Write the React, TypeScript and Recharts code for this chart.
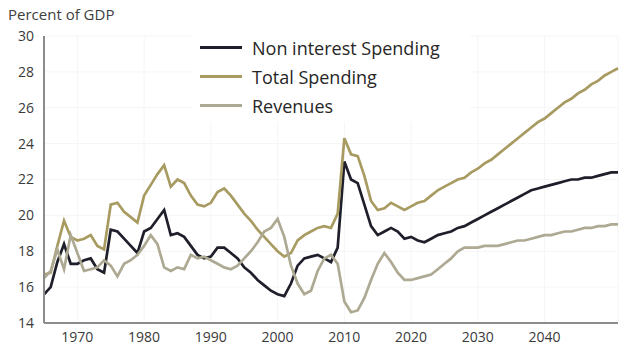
import React from 'react';
import { LineChart, Line, XAxis, YAxis, CartesianGrid } from 'recharts';

const years = [
  1965, 1966, 1967, 1968, 1969, 1970, 1971, 1972, 1973, 1974,
  1975, 1976, 1977, 1978, 1979, 1980, 1981, 1982, 1983, 1984,
  1985, 1986, 1987, 1988, 1989, 1990, 1991, 1992, 1993, 1994,
  1995, 1996, 1997, 1998, 1999, 2000, 2001, 2002, 2003, 2004,
  2005, 2006, 2007, 2008, 2009, 2010, 2011, 2012, 2013, 2014,
  2015, 2016, 2017, 2018, 2019, 2020, 2021, 2022, 2023, 2024,
  2025, 2026, 2027, 2028, 2029, 2030, 2031, 2032, 2033, 2034,
  2035, 2036, 2037, 2038, 2039, 2040, 2041, 2042, 2043, 2044,
  2045, 2046, 2047, 2048, 2049, 2050, 2051,
];

const nonInterest = [
  15.6, 16.0, 17.4, 18.4, 17.3, 17.3, 17.5, 17.6, 17.0, 16.8,
  19.2, 19.1, 18.7, 18.3, 17.9, 19.1, 19.3, 19.8, 20.3, 18.9,
  19.0, 18.8, 18.3, 17.8, 17.6, 17.7, 18.2, 18.2, 17.9, 17.6,
  17.1, 16.8, 16.4, 16.1, 15.8, 15.6, 15.5, 16.2, 17.2, 17.6,
  17.7, 17.8, 17.6, 17.4, 18.2, 23.0, 22.0, 21.8, 20.6, 19.4,
  18.9, 19.1, 19.3, 19.1, 18.7, 18.8, 18.6, 18.5, 18.7, 18.9,
  19.0, 19.1, 19.3, 19.4, 19.6, 19.8, 20.0, 20.2, 20.4, 20.6,
  20.8, 21.0, 21.2, 21.4, 21.5, 21.6, 21.7, 21.8, 21.9, 22.0,
  22.0, 22.1, 22.1, 22.2, 22.3, 22.4, 22.4,
];

const totalSpending = [
  16.7, 16.8, 18.3, 19.7, 18.8, 18.6, 18.7, 18.9, 18.3, 18.1,
  20.6, 20.7, 20.2, 19.9, 19.6, 21.1, 21.7, 22.3, 22.8, 21.6,
  22.0, 21.8, 21.1, 20.6, 20.5, 20.7, 21.3, 21.5, 21.1, 20.6,
  20.1, 19.7, 19.2, 18.8, 18.4, 18.0, 17.7, 17.9, 18.6, 18.9,
  19.1, 19.3, 19.4, 19.3, 20.1, 24.3, 23.4, 23.3, 22.2, 20.8,
  20.3, 20.4, 20.7, 20.5, 20.3, 20.5, 20.7, 20.8, 21.1, 21.4,
  21.6, 21.8, 22.0, 22.1, 22.4, 22.6, 22.9, 23.1, 23.4, 23.7,
  24.0, 24.3, 24.6, 24.9, 25.2, 25.4, 25.7, 26.0, 26.3, 26.5,
  26.8, 27.0, 27.3, 27.5, 27.8, 28.0, 28.2,
];

const revenues = [
  16.5, 16.9, 18.1, 17.0, 18.9, 17.9, 16.9, 17.0, 17.1, 17.5,
  17.2, 16.6, 17.3, 17.5, 17.8, 18.3, 18.9, 18.4, 17.1, 16.9,
  17.1, 17.0, 17.8, 17.6, 17.7, 17.5, 17.3, 17.1, 17.0, 17.2,
  17.6, 18.0, 18.5, 19.1, 19.3, 19.8, 18.8, 17.2, 16.2, 15.6,
  15.8, 16.9, 17.6, 17.8, 17.3, 15.2, 14.6, 14.7, 15.4, 16.4,
  17.3, 17.9, 17.4, 16.8, 16.4, 16.4, 16.5, 16.6, 16.7, 17.0,
  17.3, 17.6, 18.0, 18.2, 18.2, 18.2, 18.3, 18.3, 18.3, 18.4,
  18.5, 18.6, 18.6, 18.7, 18.8, 18.9, 18.9, 19.0, 19.1, 19.1,
  19.2, 19.3, 19.3, 19.4, 19.4, 19.5, 19.5,
];

const xTicks = [1970, 1980, 1990, 2000, 2010, 2020, 2030, 2040];
const yTicks = [14, 16, 18, 20, 22, 24, 26, 28, 30];

const series = [
  { key: 'nonInterest', name: 'Non interest Spending', color: '#1f1f2b' },
  { key: 'total', name: 'Total Spending', color: '#a89b62' },
  { key: 'revenues', name: 'Revenues', color: '#ada993' },
];

const data = years.map((year, i) => ({
  year,
  nonInterest: nonInterest[i],
  total: totalSpending[i],
  revenues: revenues[i],
}));

const FONT = '"Open Sans", Lato, sans-serif';

export default function App() {
  return (
    <div style={{ position: 'absolute', left: 0, top: 0, width: 620, height: 353, background: '#fff' }}>
      <LineChart width={620} height={353} data={data} margin={{ top: 36, right: 2, bottom: 0, left: 0 }}>
        <CartesianGrid stroke="#f5f5f5" />
        <XAxis
          dataKey="year"
          type="number"
          domain={[1965, 2051]}
          ticks={xTicks}
          height={30}
          tickLine={false}
          axisLine={{ stroke: '#8c8c8c', strokeWidth: 2 }}
          tick={{ fill: '#3a3a3a', fontSize: 14, fontFamily: FONT }}
          tickMargin={3}
        />
        <YAxis
          type="number"
          domain={[14, 30]}
          ticks={yTicks}
          width={44}
          tickLine={false}
          axisLine={{ stroke: '#8c8c8c', strokeWidth: 2 }}
          tick={{ fill: '#3a3a3a', fontSize: 14, fontFamily: FONT }}
          tickMargin={4}
        />
        {series.map(s => (
          <Line
            key={s.key}
            type="linear"
            dataKey={s.key}
            name={s.name}
            stroke={s.color}
            strokeWidth={2.7}
            dot={false}
            isAnimationActive={false}
          />
        ))}
      </LineChart>
      <div
        style={{
          position: 'absolute',
          left: 8,
          top: 4,
          fontFamily: FONT,
          fontSize: 15,
          color: '#404040',
        }}
      >
        Percent of GDP
      </div>
      <div
        style={{
          position: 'absolute',
          left: 192,
          top: 31,
          width: 262,
          background: '#fff',
          padding: '2px 8px',
          fontFamily: FONT,
        }}
      >
        {series.map(s => (
          <div key={s.key} style={{ display: 'flex', alignItems: 'center', height: 29 }}>
            <span style={{ display: 'inline-block', width: 42, height: 3, background: s.color, marginRight: 10 }} />
            <span style={{ fontSize: 18, color: '#262626' }}>{s.name}</span>
          </div>
        ))}
      </div>
    </div>
  );
}
